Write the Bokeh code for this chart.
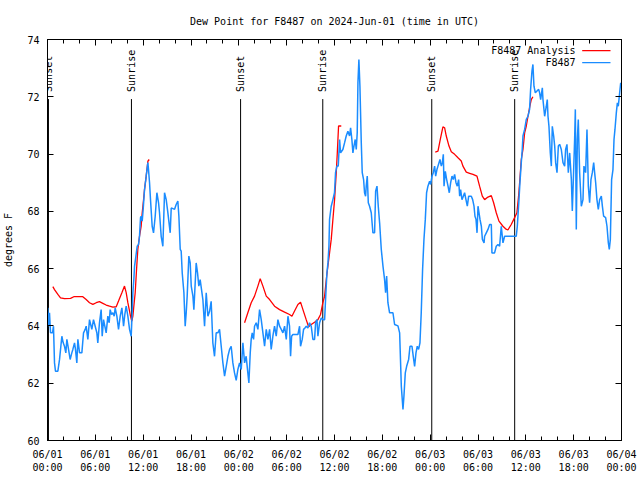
import math
from bokeh.plotting import figure
from bokeh.models import Range1d, FixedTicker, LinearAxis, Label, Arrow
from bokeh.embed import file_html
from bokeh.resources import INLINE

# hours since 2024-06-01 00:00 UTC
obs_hours = [0.04,0.13,0.25,0.38,0.63,0.75,0.88,1.0,1.3,1.51,1.8,1.97,2.13,2.3,2.43,2.64,2.84,3.05,3.18,3.39,3.51,3.68,3.81,4.02,4.31,4.52,4.73,4.85,5.06,5.27,5.56,5.77,5.98,6.19,6.31,6.52,6.73,6.86,7.03,7.19,7.36,7.57,7.74,7.86,8.03,8.2,8.37,8.49,8.7,8.91,9.12,9.33,9.54,9.7,9.87,10.08,10.29,10.5,10.62,10.71,10.83,10.92,11.09,11.25,11.42,11.54,11.67,11.75,11.88,12.0,12.17,12.38,12.59,12.67,12.8,12.92,13.13,13.3,13.51,13.72,13.93,14.05,14.26,14.47,14.68,14.89,15.1,15.39,15.52,15.94,16.14,16.35,16.48,16.65,16.77,16.9,17.11,17.27,17.4,17.52,17.73,17.9,18.03,18.24,18.36,18.65,18.82,18.98,19.15,19.32,19.49,19.7,19.91,20.12,20.33,20.53,20.74,20.95,21.16,21.37,21.58,21.79,22.0,22.21,22.42,22.63,22.84,23.04,23.25,23.46,23.67,23.88,24.09,24.3,24.51,24.72,24.92,25.13,25.26,25.43,25.55,25.68,25.85,25.97,26.18,26.39,26.6,26.81,27.02,27.23,27.44,27.65,27.86,28.06,28.27,28.48,28.69,28.9,29.11,29.32,29.53,29.74,29.95,30.16,30.36,30.49,30.62,30.78,31.41,31.62,31.74,31.95,32.12,32.29,32.46,32.66,32.87,33.08,33.29,33.5,33.63,33.8,33.92,34.13,34.34,34.55,34.76,34.88,35.05,35.18,35.3,35.38,35.59,35.8,36.0,36.13,36.3,36.47,36.64,36.76,37.05,37.26,37.47,37.68,37.89,38.02,38.18,38.31,38.44,38.6,38.73,38.85,38.94,39.06,39.19,39.36,39.48,39.65,39.77,39.9,39.98,40.11,40.24,40.4,40.61,40.82,41.03,41.16,41.33,41.49,41.66,41.79,41.87,42.08,42.28,42.41,42.54,42.7,42.91,43.33,43.54,43.96,44.17,44.29,44.38,44.5,44.59,44.71,44.88,45.05,45.3,45.47,45.72,45.88,46.05,46.22,46.38,46.55,46.72,46.88,47.05,47.22,47.39,47.55,47.72,47.93,48.06,48.23,48.39,48.56,48.69,48.85,48.98,49.11,49.23,49.4,49.53,49.65,49.74,49.9,50.07,50.24,50.4,50.57,50.74,50.9,51.07,51.24,51.4,51.57,51.7,51.82,51.99,52.16,52.32,52.49,52.66,52.83,53.16,53.33,53.5,53.62,53.75,53.88,54.0,54.13,54.25,54.42,54.55,54.76,54.83,55.04,55.25,55.46,55.67,55.75,56.08,56.29,56.5,56.71,56.92,57.13,57.34,58.8,58.93,59.14,59.26,59.43,59.55,59.64,59.85,60.06,60.27,60.47,60.6,60.77,60.89,61.02,61.19,61.4,61.61,61.73,61.86,62.07,62.15,62.36,62.57,62.69,62.78,62.9,63.07,63.2,63.32,63.49,63.62,63.74,63.91,64.08,64.24,64.45,64.66,64.87,64.99,65.16,65.33,65.5,65.71,65.83,65.96,66.12,66.21,66.33,66.46,66.58,66.75,66.96,67.17,67.29,67.5,67.67,67.84,68.0,68.17,68.34,68.51,68.63,68.76,68.92,69.09,69.26,69.47,69.6,69.76,70.01,70.18,70.35,70.47,70.6,70.76,70.93,71.06,71.18,71.35,71.48,71.6,71.77,71.9]
obs_dewpt = [64.63,63.99,64.46,63.76,63.76,63.99,62.71,62.42,62.42,62.83,63.64,63.41,63.29,63.06,63.53,63.18,62.83,63.06,63.18,63.41,63.18,62.71,63.53,63.06,63.06,63.76,63.88,63.99,63.53,64.22,63.88,64.22,63.99,63.76,63.41,64.11,64.57,63.64,64.22,63.99,63.76,64.34,64.11,64.57,64.4,64.46,64.34,64.63,64.34,63.88,64.34,64.63,63.99,64.4,64.69,64.34,63.88,63.64,64.46,65.16,65.62,66.09,66.44,66.78,66.84,67.13,67.78,67.83,67.66,68.07,68.76,69.23,69.7,69.46,69.0,68.41,67.48,67.25,67.83,68.65,68.3,67.95,67.13,66.78,68.65,68.41,67.95,67.25,68.12,68.07,68.24,68.36,67.83,66.67,66.61,65.85,65.16,63.99,64.46,65.04,66.44,66.2,65.39,65.04,64.57,66.2,65.85,65.39,65.62,65.27,64.92,63.99,65.16,64.34,64.51,64.86,63.41,62.94,63.76,63.76,63.88,63.29,62.71,62.25,62.59,62.94,63.18,63.29,62.71,62.36,62.1,62.48,62.71,62.48,63.41,62.71,62.94,62.36,62.01,63.06,63.53,63.76,63.53,63.99,64.11,63.88,64.57,64.22,63.76,63.29,63.88,63.53,63.88,63.18,63.64,63.99,63.64,64.22,63.99,63.88,63.76,63.99,63.53,64.34,63.99,62.94,63.64,63.7,63.7,63.99,63.29,63.53,63.88,63.93,63.99,63.93,64.11,63.99,63.53,63.53,64.11,64.22,63.64,64.11,64.28,64.22,64.22,64.92,65.85,66.2,66.78,67.72,68.18,68.41,68.65,69.35,69.58,69.58,70.51,70.04,70.16,70.39,70.63,70.8,70.63,70.92,70.51,70.04,70.28,70.51,70.16,70.74,72.49,73.3,72.37,70.39,69.35,69.11,68.65,68.53,68.88,69.23,68.3,68.18,67.95,67.25,67.25,68.7,68.88,68.18,67.6,67.02,66.67,66.09,65.62,65.16,65.74,64.81,64.46,64.46,64.05,64.0,63.76,62.71,61.9,61.43,61.08,61.55,62.36,62.59,62.83,63.29,63.29,62.94,62.59,63.06,63.29,63.18,63.41,64.46,65.97,67.02,67.72,68.65,68.88,69.05,68.94,69.23,69.35,69.58,69.23,69.46,69.58,69.7,69.81,69.58,69.7,69.99,68.88,69.4,69.11,68.88,68.65,69.0,69.23,69.11,69.29,69.0,68.88,69.11,68.53,68.76,68.41,68.53,68.65,68.41,68.18,68.53,68.53,68.41,68.18,67.83,67.72,67.25,68.18,67.95,67.72,67.48,67.02,66.9,67.13,67.25,67.37,67.54,67.54,66.55,66.55,66.78,66.84,66.78,67.48,66.9,67.13,67.13,67.48,68.41,69.0,69.7,70.16,70.63,70.86,71.21,71.32,71.56,72.26,72.9,73.13,72.37,72.14,72.2,72.26,72.14,71.9,72.31,71.9,71.32,71.67,71.9,71.32,70.97,70.04,69.58,70.97,70.63,70.28,69.7,69.35,70.28,70.34,70.16,69.7,69.58,70.16,70.34,69.35,70.04,69.11,68.01,69.11,70.51,71.56,67.37,70.51,71.21,69.35,68.18,68.41,69.58,69.35,70.86,68.88,68.3,69.11,69.35,69.7,69.35,69.0,68.41,68.07,68.41,68.53,68.18,67.83,67.78,67.48,66.9,66.67,67.02,69.11,69.46,70.51,70.86,71.44,71.79,71.67,72.14,72.49]

nan = float("nan")
ana_hours = [0.67,0.88,1.3,1.63,2.13,2.89,3.3,4.43,4.85,5.27,5.69,6.11,6.52,6.94,7.36,7.78,8.2,8.62,8.91,9.33,9.66,9.87,10.08,10.29,10.41,10.58,10.71,10.83,11.0,11.17,11.33,11.54,11.75,11.88,12.05,12.17,12.38,12.59,12.76,
             nan,
             24.72,25.13,25.55,25.97,26.39,26.68,27.02,27.44,27.86,28.48,29.11,29.74,30.36,30.66,30.99,31.41,31.74,32.04,32.45,32.75,33.08,33.5,33.92,34.25,34.54,34.76,34.97,35.17,35.38,35.59,35.8,36.01,36.22,36.35,36.51,36.85,
             nan,
             48.64,48.98,49.27,49.6,49.81,50.02,50.36,50.65,51.07,51.49,51.9,52.11,52.53,52.95,53.37,53.87,54.2,54.54,54.83,55.25,55.67,55.96,56.29,56.63,57.13,57.46,57.75,58.17,58.59,58.88,59.09,59.22,59.43,59.64,59.85,60.06,60.27,60.47,60.68,60.89]
ana_dewpt = [65.37,65.27,65.1,64.98,64.95,64.96,65.02,65.02,64.92,64.81,64.75,64.81,64.85,64.79,64.73,64.69,64.66,64.67,64.87,65.16,65.39,65.16,64.81,64.52,64.34,64.17,64.34,64.69,65.16,65.97,66.67,67.13,67.48,67.95,68.41,68.76,69.23,69.75,69.81,
             nan,
             64.11,64.46,64.81,65.04,65.39,65.65,65.39,65.04,64.92,64.69,64.57,64.48,64.4,64.34,64.52,64.75,64.83,64.57,64.22,63.97,64.05,64.13,64.22,64.4,64.81,65.04,65.62,66.09,66.55,67.02,67.72,68.41,69.35,70.04,70.98,70.98,
             nan,
             70.07,70.1,70.51,70.95,70.92,70.63,70.28,70.08,69.99,69.87,69.76,69.58,69.37,69.33,69.29,69.23,68.88,68.53,68.41,68.5,68.55,68.3,67.95,67.66,67.48,67.39,67.35,67.54,67.78,67.95,68.53,69.0,69.81,70.16,70.74,70.98,71.32,71.62,71.9,72.0]

sunset_hours = [0.12, 24.22, 48.2]
sunrise_hours = [10.53, 34.53, 58.6]

x_ticks = [0, 6, 12, 18, 24, 30, 36, 42, 48, 54, 60, 66, 72]
x_tick_labels = ["06/01\n00:00", "06/01\n06:00", "06/01\n12:00", "06/01\n18:00",
                 "06/02\n00:00", "06/02\n06:00", "06/02\n12:00", "06/02\n18:00",
                 "06/03\n00:00", "06/03\n06:00", "06/03\n12:00", "06/03\n18:00",
                 "06/04\n00:00"]
x_minor = [h for h in range(0, 73, 2) if h % 6 != 0]
y_ticks = [60, 62, 64, 66, 68, 70, 72, 74]

FONT = "DejaVu Sans Mono"
FS = "10px"

p = figure(frame_width=574, frame_height=401,
           x_range=Range1d(0, 72), y_range=Range1d(60, 74),
           output_backend="svg", toolbar_location=None,
           min_border_left=39, min_border_right=17, min_border_top=39, min_border_bottom=30,
           title="Dew Point for F8487 on 2024-Jun-01 (time in UTC)")
p.title.text_font = FONT
p.title.text_font_size = FS
p.title.text_font_style = "normal"
p.title.text_color = "black"
p.title.align = "center"
p.title.standoff = 25
p.xgrid.visible = False
p.ygrid.visible = False
p.outline_line_color = "black"
p.outline_line_width = 1
p.background_fill_color = "white"
p.border_fill_color = "white"

xt = FixedTicker(ticks=x_ticks, minor_ticks=x_minor)
yt = FixedTicker(ticks=y_ticks, minor_ticks=[])

xa = p.xaxis[0]
xa.ticker = xt
xa.major_label_overrides = {t: lab for t, lab in zip(x_ticks, x_tick_labels)}
ya = p.yaxis[0]
ya.ticker = yt
ya.axis_label = "degrees F"

for ax in (xa, ya):
    ax.major_label_text_font = FONT
    ax.major_label_text_font_size = FS
    ax.major_label_text_color = "black"
    ax.axis_label_text_font = FONT
    ax.axis_label_text_font_size = FS
    ax.axis_label_text_font_style = "normal"
    ax.axis_label_text_color = "black"
    ax.axis_line_color = "black"
    ax.major_tick_line_color = "black"
    ax.minor_tick_line_color = "black"
    ax.major_tick_out = 0
    ax.minor_tick_out = 0
    ax.major_tick_in = 6
    ax.minor_tick_in = 4
xa.major_label_standoff = 8
ya.major_label_standoff = 8
ya.axis_label_standoff = 10

top = LinearAxis(ticker=FixedTicker(ticks=x_ticks, minor_ticks=x_minor),
                 major_label_text_font_size="0px", major_label_text_color=None,
                 major_label_standoff=0,
                 major_tick_out=0, minor_tick_out=0, major_tick_in=6, minor_tick_in=4,
                 axis_line_color="black")
right = LinearAxis(ticker=FixedTicker(ticks=y_ticks, minor_ticks=[]),
                   major_label_text_font_size="0px", major_label_text_color=None,
                   major_label_standoff=0,
                   major_tick_out=0, minor_tick_out=0, major_tick_in=6, minor_tick_in=0,
                   axis_line_color="black")
p.add_layout(top, "above")
p.add_layout(right, "right")

# sunset / sunrise markers
sun_x = sunset_hours + sunrise_hours
sun_txt = ["Sunset"] * len(sunset_hours) + ["Sunrise"] * len(sunrise_hours)
LINE_TOP = 71.92
p.segment(x0=sun_x, y0=[60] * len(sun_x), x1=sun_x, y1=[LINE_TOP] * len(sun_x),
          line_color="black", line_width=1)
for sx, st in zip(sun_x, sun_txt):
    p.add_layout(Label(x=sx, y=72.17, text=st, angle=90, angle_units="deg",
                       text_align="left", text_baseline="middle",
                       text_font=FONT, text_font_size=FS, text_color="black"))

RED = "#ff0000"
BLUE = "#1a8cff"
p.line(ana_hours, ana_dewpt, line_color=RED, line_width=1.3)
p.line(obs_hours, obs_dewpt, line_color=BLUE, line_width=1.5)

# gnuplot-style key (text right, sample line on its right)
key_entries = [("F8487 Analysis", RED, 73.61), ("F8487", BLUE, 73.19)]
for txt, col, ky in key_entries:
    p.add_layout(Label(x=66.23, y=ky, text=txt, text_align="right", text_baseline="middle",
                       text_font=FONT, text_font_size=FS, text_color="black"))
    p.add_layout(Arrow(end=None, x_start=67.07, y_start=ky, x_end=70.62, y_end=ky,
                       line_color=col, line_width=1.3))

open("out.html", "w").write(file_html(p, INLINE))
